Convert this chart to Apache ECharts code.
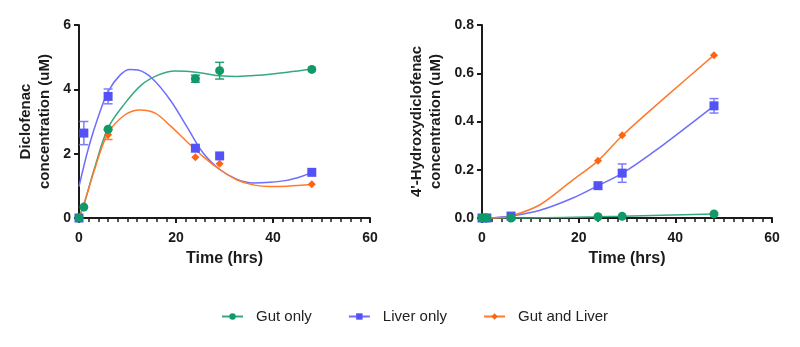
<!DOCTYPE html>
<html>
<head>
<meta charset="utf-8">
<title>Diclofenac and 4'-Hydroxydiclofenac</title>
<script src="https://cdn.jsdelivr.net/npm/echarts@6/dist/echarts.min.js"></script>
<style>
  html, body { margin: 0; padding: 0; background: #fff; }
  #chart { width: 800px; height: 347px; }
</style>
</head>
<body>
<div id="chart"></div>
<script>
// Sampling times (hrs)
const times = [0, 1, 6, 24, 29, 48];

// Diclofenac (uM), mean and SD
const gutDic = [0, 0.34, 2.76, 4.33, 4.58, 4.62];
const gutDicErr = [0, 0, 0, 0.11, 0.26, 0];
const liverDic = [0, 2.64, 3.78, 2.17, 1.93, 1.42];
const liverDicErr = [0, 0.36, 0.23, 0, 0, 0];
const bothDic = [0, 0.33, 2.59, 1.89, 1.69, 1.05];
const bothDicErr = [0, 0, 0.15, 0, 0, 0];

// 4'-Hydroxydiclofenac (uM), mean and SD
const gutOh = [0, 0, 0, 0.005, 0.007, 0.017];
const gutOhErr = [0, 0, 0, 0, 0, 0];
const liverOh = [0, 0, 0.008, 0.134, 0.186, 0.465];
const liverOhErr = [0, 0, 0, 0, 0.038, 0.03];
const bothOh = [0, 0, 0.005, 0.237, 0.343, 0.675];
const bothOhErr = [0, 0, 0, 0, 0, 0];

// Fitted curves [time, conc]
const gutDicFit = [[0,0.05],[0.9,0.36],[3.3,1.6],[6,2.8],[9.5,3.57],[12.9,4.14],[16.4,4.45],[19.8,4.57],[22,4.56],[25.6,4.5],[29.1,4.42],[32.5,4.4],[36,4.43],[39.4,4.47],[43,4.53],[48,4.63]];
const liverDicFit = [[0,0.98],[2,2.2],[4,3.16],[6,3.93],[8.5,4.45],[10.5,4.62],[12.2,4.6],[15,4.35],[18.8,3.67],[22.2,2.85],[25.6,2.02],[29.1,1.5],[32.5,1.21],[35.9,1.09],[39.4,1.11],[42.8,1.17],[46,1.3],[48,1.42]];
const bothDicFit = [[0,0],[1,0.42],[3.3,1.55],[6,2.64],[9.5,3.21],[12.6,3.36],[15.7,3.26],[18.8,2.87],[22.2,2.38],[25.6,1.91],[29.1,1.5],[32.5,1.19],[35.9,1.03],[39.4,0.98],[43,0.99],[48,1.04]];

const gutOhFit = [[0,0],[6,0],[24,0.005],[29,0.007],[48,0.017]];
const liverOhFit = [[0,0],[3,0.002],[6,0.008],[12,0.032],[18.8,0.083],[24,0.134],[29.1,0.186],[36,0.281],[48,0.465]];
const bothOhFit = [[0,0],[3,0],[6,0.008],[12,0.055],[18.8,0.158],[24,0.237],[29.1,0.343],[38,0.502],[48,0.675]];

// Axis ticks
const xTicks = { min: 0, max: 60, interval: 20 };
const yTicksDic = { min: 0, max: 6, interval: 2 };
const yTicksOh = { min: 0, max: 0.8, interval: 0.2 };

const names = ['Gut only', 'Liver only', 'Gut and Liver'];
const markColors = ['#0f9a68', '#5252f6', '#ff6410'];
const lineColors = ['#35a97f', '#6e6efc', '#ff7a2c'];
const errColors = ['#2a9f74', '#7d7dfd', '#ff7d33'];
const symbols = ['circle', 'rect', 'diamond'];
const symbolSizes = [9, 9, 8];

const FONT = 'Arial, "Liberation Sans", Helvetica, sans-serif';
const ink = '#1c1a1a';

function xAxis(gridIndex) {
  return {
    type: 'value', gridIndex: gridIndex,
    min: xTicks.min, max: xTicks.max, interval: xTicks.interval,
    name: 'Time (hrs)', nameLocation: 'middle', nameGap: 33,
    nameTextStyle: { fontFamily: FONT, fontWeight: 'bold', fontSize: 16, color: ink },
    axisLine: { show: true, onZero: false, lineStyle: { color: ink, width: 2 } },
    axisTick: { show: true, length: 5, lineStyle: { color: ink, width: 2 } },
    minorTick: { show: true, splitNumber: 10, length: 4, lineStyle: { color: ink, width: 1.5 } },
    axisLabel: { margin: 13, fontFamily: FONT, fontWeight: 'bold', fontSize: 14, color: ink },
    splitLine: { show: false }
  };
}

function yAxis(gridIndex, ticks, name, gap, fmt) {
  return {
    type: 'value', gridIndex: gridIndex,
    min: ticks.min, max: ticks.max, interval: ticks.interval,
    name: name, nameLocation: 'middle', nameRotate: 90, nameGap: gap,
    nameTextStyle: { fontFamily: FONT, fontWeight: 'bold', fontSize: 15, color: ink, lineHeight: 19 },
    axisLine: { show: true, onZero: false, lineStyle: { color: ink, width: 2 } },
    axisTick: { show: true, length: 5, lineStyle: { color: ink, width: 2 } },
    axisLabel: { margin: 8, fontFamily: FONT, fontWeight: 'bold', fontSize: 14, color: ink, formatter: fmt },
    splitLine: { show: false }
  };
}

function fitSeries(i, data, gridIndex, smoothness) {
  return {
    type: 'line', name: names[i], data: data,
    xAxisIndex: gridIndex, yAxisIndex: gridIndex,
    smooth: smoothness,
    showSymbol: false, symbol: symbols[i], symbolSize: 7,
    itemStyle: { color: markColors[i] },
    lineStyle: { color: lineColors[i], width: 1.5 },
    silent: true, z: 2
  };
}

function pointSeries(i, vals, gridIndex) {
  return {
    type: 'scatter', name: names[i],
    data: times.map((t, k) => [t, vals[k]]),
    xAxisIndex: gridIndex, yAxisIndex: gridIndex,
    symbol: symbols[i], symbolSize: symbolSizes[i],
    itemStyle: { color: markColors[i], opacity: 1 },
    z: 4
  };
}

function errorSeries(i, vals, errs, gridIndex, cap) {
  const data = [];
  times.forEach((t, k) => { if (errs[k] > 0) data.push([t, vals[k] - errs[k], vals[k] + errs[k]]); });
  return {
    type: 'custom', name: names[i], data: data,
    xAxisIndex: gridIndex, yAxisIndex: gridIndex,
    z: 3, silent: true,
    renderItem: function (params, api) {
      const t = api.value(0);
      const lo = api.coord([t, api.value(1)]);
      const hi = api.coord([t, api.value(2)]);
      const st = { stroke: errColors[i], lineWidth: 1.5 };
      return {
        type: 'group',
        children: [
          { type: 'line', shape: { x1: lo[0], y1: lo[1], x2: hi[0], y2: hi[1] }, style: st },
          { type: 'line', shape: { x1: lo[0] - cap, y1: lo[1], x2: lo[0] + cap, y2: lo[1] }, style: st },
          { type: 'line', shape: { x1: hi[0] - cap, y1: hi[1], x2: hi[0] + cap, y2: hi[1] }, style: st }
        ]
      };
    }
  };
}

const chart = echarts.init(document.getElementById('chart'), null, { renderer: 'canvas' });

const dicFits = [gutDicFit, liverDicFit, bothDicFit];
const ohFits = [gutOhFit, liverOhFit, bothOhFit];
const dicVals = [gutDic, liverDic, bothDic];
const dicErrs = [gutDicErr, liverDicErr, bothDicErr];
const ohVals = [gutOh, liverOh, bothOh];
const ohErrs = [gutOhErr, liverOhErr, bothOhErr];

const series = [];
[0, 1, 2].forEach(i => series.push(fitSeries(i, dicFits[i], 0, 0.35)));
[0, 1, 2].forEach(i => series.push(fitSeries(i, ohFits[i], 1, 0.3)));
[2, 1, 0].forEach(i => series.push(errorSeries(i, dicVals[i], dicErrs[i], 0, 4.5)));
[2, 1, 0].forEach(i => series.push(errorSeries(i, ohVals[i], ohErrs[i], 1, 4.5)));
[2, 1, 0].forEach(i => series.push(pointSeries(i, dicVals[i], 0)));
[2, 1, 0].forEach(i => series.push(pointSeries(i, ohVals[i], 1)));

chart.setOption({
  animation: false,
  backgroundColor: '#ffffff',
  grid: [
    { left: 79, top: 25, width: 291, height: 193 },
    { left: 482, top: 25, width: 290, height: 193 }
  ],
  xAxis: [xAxis(0), xAxis(1)],
  yAxis: [
    yAxis(0, yTicksDic, 'Diclofenac\nconcentration (uM)', 25, v => String(v)),
    yAxis(1, yTicksOh, "4'-Hydroxydiclofenac\nconcentration (uM)", 37, v => v.toFixed(1))
  ],
  legend: {
    data: names,
    left: 216, top: 304,
    orient: 'horizontal',
    itemWidth: 21, itemHeight: 8, itemGap: 36,
    textStyle: { fontFamily: FONT, fontSize: 15, color: '#222', padding: [0, 0, 0, 8] },
    selectedMode: false
  },
  series: series
});
</script>
</body>
</html>
